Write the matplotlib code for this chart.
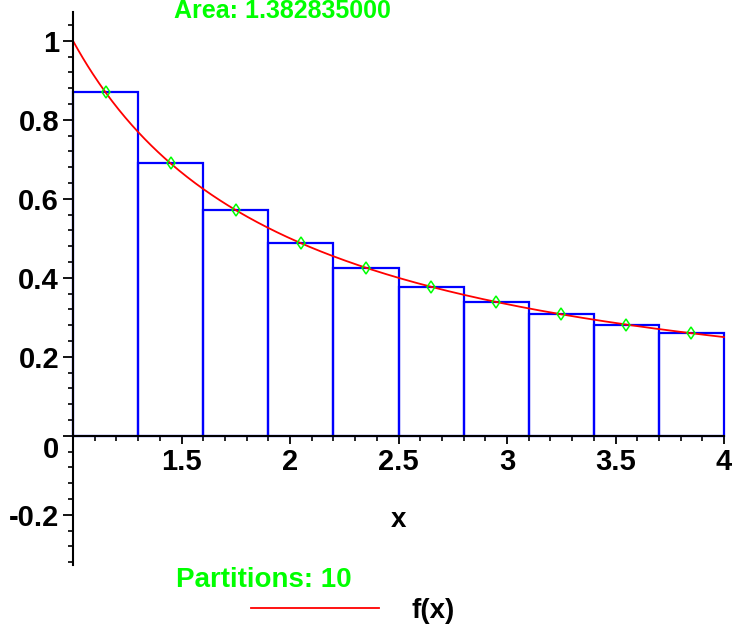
import numpy as np
import matplotlib
matplotlib.use("Agg")
import matplotlib.pyplot as plt
from matplotlib.ticker import FixedLocator

FONT = ['Liberation Sans Narrow', 'Liberation Sans', 'DejaVu Sans']
plt.rcParams['font.family'] = FONT

# Data
a, b = 1.0, 4.0
partitions = 10
midpoints = [1.15, 1.45, 1.75, 2.05, 2.35, 2.65, 2.95, 3.25, 3.55, 3.85]
heights = [0.8696, 0.6897, 0.5714, 0.4878, 0.4255, 0.3774, 0.3390, 0.3077, 0.2817, 0.2597]
bar_width = 0.3
area_text = "Area: 1.382835000"
x_ticks = [1.5, 2, 2.5, 3, 3.5, 4]
x_tick_labels = ["1.5", "2", "2.5", "3", "3.5", "4"]
y_ticks = [-0.2, 0, 0.2, 0.4, 0.6, 0.8, 1.0]
y_tick_labels = ["-0.2", "0", "0.2", "0.4", "0.6", "0.8", "1"]


def f(x):
    return 1.0 / x


W, H = 732, 627
fig = plt.figure(figsize=(W / 100, H / 100), dpi=100)
ax = fig.add_axes([73 / W, (H - 565) / H, 651 / W, 553 / H])
ax.set_xlim(1, 4)
ax.set_ylim(-0.327, 1.073)

BLUE = '#0000FF'
GREEN = '#00FF00'
RED = '#FF0000'

ax.bar(midpoints, heights, width=bar_width, fill=False, edgecolor=BLUE,
       linewidth=1.6, clip_on=False, zorder=2)
xs = np.linspace(a, b, 400)
line, = ax.plot(xs, f(xs), color=RED, linewidth=1.3, clip_on=False, zorder=3, label='f(x)')
ax.plot(midpoints, heights, linestyle='none', marker='d', markersize=6.5,
        markerfacecolor='none', markeredgecolor=GREEN, markeredgewidth=1.1,
        clip_on=False, zorder=4)

for s in ['top', 'right']:
    ax.spines[s].set_visible(False)
ax.spines['bottom'].set_position(('data', 0))
ax.spines['left'].set_position(('data', 1))
for s in ['bottom', 'left']:
    ax.spines[s].set_linewidth(1.5)
    ax.spines[s].set_zorder(5)

ax.xaxis.set_major_locator(FixedLocator(x_ticks))
ax.set_xticklabels(x_tick_labels)
ax.xaxis.set_minor_locator(FixedLocator(np.round(np.arange(1.1, 4.0, 0.1), 2)))
ax.yaxis.set_major_locator(FixedLocator(y_ticks))
ax.set_yticklabels(y_tick_labels)
ax.yaxis.set_minor_locator(FixedLocator(np.round(np.arange(-0.32, 1.07, 0.04), 2)))

ax.tick_params(axis='x', which='major', direction='out', length=6, width=1.3, pad=3,
               labelsize=21)
ax.tick_params(axis='x', which='minor', direction='out', length=3.5, width=1.2)
ax.tick_params(axis='y', which='major', direction='out', length=7, width=1.3, pad=3,
               labelsize=21)
ax.tick_params(axis='y', which='minor', direction='out', length=3.5, width=1.2)
for lab in ax.get_xticklabels() + ax.get_yticklabels():
    lab.set_fontweight('bold')
ax.get_yticklabels()[1].set_verticalalignment('top')

ax.text(0.5, 0.081, 'x', transform=ax.transAxes, ha='center', va='center',
        fontsize=20, fontweight='bold')

fig.text(282 / W, 1 - 18 / H, area_text, ha='center', va='baseline', color=GREEN,
         fontsize=18, fontweight='bold')
fig.text(264 / W, 1 - 587 / H, f"Partitions: {partitions}", ha='center', va='baseline',
         color=GREEN, fontsize=20, fontweight='bold')

leg = fig.legend(handles=[line], loc='center', bbox_to_anchor=(353 / W, 1 - 611 / H),
                 frameon=False, handlelength=4.6, handletextpad=1.2,
                 prop={'family': FONT, 'weight': 'bold', 'size': 20})

fig.savefig('out.png', dpi=100)
